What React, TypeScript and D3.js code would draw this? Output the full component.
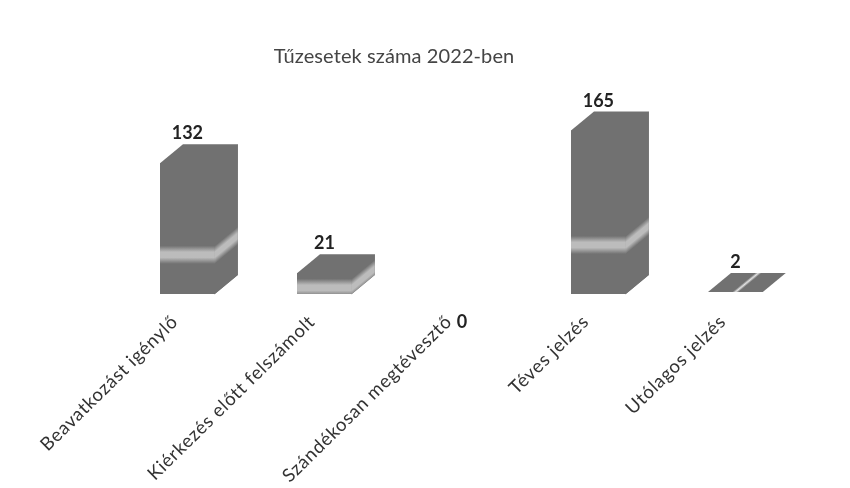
import React from "react";
import * as d3 from "d3";

const categories = ["Beavatkozást igénylő", "Kiérkezés előtt felszámolt", "Szándékosan megtévesztő", "Téves jelzés", "Utólagos jelzés"];
const values = [132, 21, 0, 165, 2];
const title = "Tűzesetek száma 2022-ben";

const W = 850, H = 488;
const baseY = 294, DX = 23, DY = 19;
const x = d3.scaleBand<string>().domain(categories).range([91.5, 831.3]).paddingInner(0.6).paddingOuter(0.5);
const y = d3.scaleLinear().domain([0, 165]).range([baseY, 130.5]);
const dark = "#717171", light = "#bcbcbc";
const font = "Lato, 'Open Sans', sans-serif";

function Bar({ i }: { i: number }) {
  const v = values[i];
  if (v === 0) return null;
  const x0 = x(categories[i])!, w = x.bandwidth(), top = y(v), h = baseY - top;
  const id = `g${i}`;
  const flat = h < 8;
  const k = DX / DY;
  const c = baseY - 0.3 * h;
  const topPts = [[x0, top], [x0 + w, top], [x0 + w + DX, top - DY], [x0 + DX, top - DY]];
  const outline = [[x0, baseY], [x0 + w, baseY], [x0 + w + DX, baseY - DY], [x0 + w + DX, top - DY], [x0 + DX, top - DY], [x0, top]];
  const topStops = flat
    ? [[0, dark], [0.44, dark], [0.5, "#e2e2e2"], [0.56, dark], [1, dark]]
    : [[0, dark], [1, dark]];
  return (
    <g>
      <defs>
        <linearGradient id={id} gradientUnits="userSpaceOnUse" x1="0" x2="0" y1={c + 9} y2={c - 9}>
          <stop offset={0} stopColor={dark} />
          <stop offset={0.35} stopColor={light} />
          <stop offset={0.65} stopColor={light} />
          <stop offset={1} stopColor={dark} />
        </linearGradient>
        <linearGradient id={`t${i}`} gradientUnits="userSpaceOnUse" x1={x0} x2={x0 + w} y1={top} y2={top}
          gradientTransform={`matrix(1,0,${-k},1,${k * top},0)`}>
          {topStops.map(([o, col], n) => (
            <stop key={n} offset={o as number} stopColor={col as string} />
          ))}
        </linearGradient>
      </defs>
      {flat ? (
        <polygon points={topPts.map(p => p.join(",")).join(" ")} fill={`url(#t${i})`} />
      ) : (
        <g>
          <polygon points={outline.map(p => p.join(",")).join(" ")} fill={dark} />
          <g transform={`matrix(1,${-DY / DX},0,1,${x0 + w},0)`}>
            <rect x={-0.5} y={top} width={DX + 0.5} height={h} fill={`url(#${id})`} />
          </g>
          <rect x={x0} y={top} width={w} height={h} fill={`url(#${id})`} />
        </g>
      )}
    </g>
  );
}

export default function App() {
  return (
    <svg width={W} height={H} style={{ position: "absolute", left: 0, top: 0, background: "#fff" }}>
      <defs>
        <filter id="soft" x="-5%" y="-5%" width="110%" height="110%"><feGaussianBlur stdDeviation="0.6" /></filter>
      </defs>
      <g filter="url(#soft)">
        <text x={394} y={63} textAnchor="middle" fontFamily={font} fontSize={20} letterSpacing={0.1} fill="#444">{title}</text>
        {categories.map((_, i) => <Bar key={i} i={i} />)}
        {categories.map((c) => (
          <text key={c} transform={`translate(${x(c)! + 19},${323}) rotate(-44.5)`} textAnchor="end" fontFamily={font} fontSize={18.5} letterSpacing={0.7} fill="#333">{c}</text>
        ))}
        {categories.map((c, i) => {
          const cx = x(c)! + x.bandwidth() / 2;
          const isZero = values[i] === 0;
          return (
            <text key={c} x={isZero ? 462 : cx} y={isZero ? 328 : y(values[i]) - DY - 5} textAnchor="middle" fontFamily={font} fontWeight={700} fontSize={18} fill="#222">{values[i]}</text>
          );
        })}
      </g>
    </svg>
  );
}
